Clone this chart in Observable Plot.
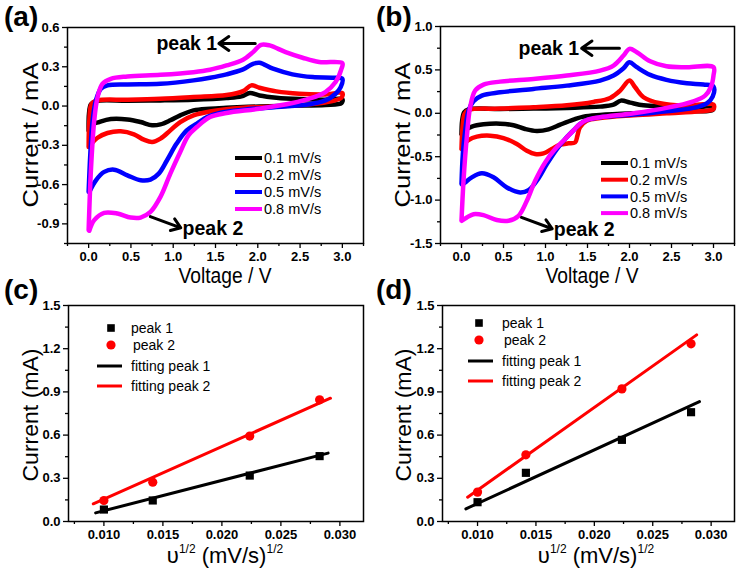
<!DOCTYPE html>
<html><head><meta charset="utf-8">
<script src="https://cdn.jsdelivr.net/npm/d3@7"></script>
<script src="https://cdn.jsdelivr.net/npm/@observablehq/plot@0.6"></script>
<style>
body{margin:0;background:#fff;font-family:"Liberation Sans",Arial,sans-serif;}
#fig{position:relative;width:742px;height:569px;overflow:hidden;background:#fff;}
</style></head><body><div id="fig"></div>
<script>
// ---------- data ----------
const scanRates = ["0.1 mV/s", "0.2 mV/s", "0.5 mV/s", "0.8 mV/s"];
const cvColors = ["#000000", "#ff0000", "#0000ff", "#ff00ff"];

// panel (a) CV loops: [voltage V, current mA]
const aCV01 = [[0,-0.186],[0.004,-0.058],[0.027,0.013],[0.086,0.038],[0.458,0.041],[0.849,0.043],[1.24,0.048],[1.63,0.061],[1.807,0.074],[1.905,0.099],[2.02,0.081],[2.22,0.064],[2.49,0.053],[2.8,0.048],[3.0,0.053],
  [2.99,0.023],[2.8,0.008],[2.41,0.003],[2.02,-0.003],[1.63,-0.013],[1.435,-0.02],[1.24,-0.033],[1.083,-0.071],[0.966,-0.109],[0.849,-0.14],[0.751,-0.147],[0.614,-0.122],[0.458,-0.102],[0.262,-0.099],[0.125,-0.122],[0.027,-0.147],[0,-0.186]];
const aCV02 = [[0,-0.313],[0.008,-0.109],[0.035,0.018],[0.106,0.043],[0.458,0.048],[0.849,0.056],[1.24,0.069],[1.63,0.084],[1.826,0.114],[1.924,0.158],[2.02,0.14],[2.22,0.112],[2.49,0.094],[2.8,0.089],[3.0,0.099],
  [2.99,0.064],[2.88,0.038],[2.61,0.013],[2.22,-0.003],[1.83,-0.013],[1.435,-0.041],[1.24,-0.071],[1.083,-0.122],[0.966,-0.186],[0.849,-0.249],[0.751,-0.275],[0.653,-0.257],[0.536,-0.216],[0.379,-0.193],[0.223,-0.206],[0.106,-0.242],[0.008,-0.308]];
const aCV05 = [[0,-0.656],[0.02,-0.364],[0.047,-0.109],[0.086,0.043],[0.145,0.132],[0.223,0.158],[0.458,0.165],[0.849,0.17],[1.24,0.196],[1.435,0.216],[1.63,0.242],[1.826,0.28],[1.944,0.323],[2.02,0.331],[2.18,0.285],[2.41,0.242],[2.65,0.221],[2.88,0.216],[3.0,0.208],
  [2.98,0.145],[2.92,0.094],[2.8,0.043],[2.61,0.013],[2.22,-0.008],[1.83,-0.028],[1.55,-0.053],[1.4,-0.084],[1.28,-0.135],[1.16,-0.186],[1.04,-0.287],[0.927,-0.414],[0.829,-0.516],[0.731,-0.562],[0.614,-0.567],[0.458,-0.529],[0.3,-0.486],[0.184,-0.503],[0.086,-0.567],[0.008,-0.656]];
const aCV08 = [[0,-0.948],[0.027,-0.49],[0.066,-0.11],[0.106,0.069],[0.164,0.17],[0.262,0.208],[0.458,0.226],[0.849,0.239],[1.24,0.259],[1.435,0.277],[1.63,0.31],[1.826,0.353],[1.944,0.412],[2.04,0.468],[2.14,0.463],[2.33,0.412],[2.53,0.369],[2.726,0.336],[3.0,0.328],
  [2.99,0.285],[2.92,0.183],[2.8,0.107],[2.61,0.056],[2.41,0.023],[2.02,-0.02],[1.63,-0.053],[1.435,-0.084],[1.28,-0.16],[1.18,-0.224],[1.083,-0.351],[0.966,-0.516],[0.849,-0.694],[0.731,-0.809],[0.614,-0.852],[0.497,-0.852],[0.34,-0.821],[0.184,-0.816],[0.066,-0.872],[0.008,-0.953]];

// panel (b) CV loops
const bCV01 = [[0,-0.238],[0.008,-0.085],[0.032,0.012],[0.083,0.046],[0.46,0.05],[0.857,0.054],[1.254,0.062],[1.65,0.077],[1.81,0.1],[1.897,0.146],[2.008,0.123],[2.167,0.092],[2.444,0.077],[2.762,0.062],[3.0,0.077],
  [2.99,0.038],[2.762,0.023],[2.444,0.012],[2.048,0.0],[1.65,-0.019],[1.452,-0.038],[1.333,-0.073],[1.175,-0.131],[1.036,-0.185],[0.897,-0.204],[0.758,-0.181],[0.619,-0.138],[0.46,-0.119],[0.262,-0.127],[0.123,-0.154],[0.032,-0.2],[0,-0.238]];
const bCV02 = [[0,-0.412],[0.012,-0.162],[0.036,-0.008],[0.083,0.038],[0.46,0.054],[0.857,0.069],[1.254,0.092],[1.571,0.131],[1.77,0.177],[1.889,0.262],[2.0,0.377],[2.067,0.3],[2.167,0.185],[2.365,0.115],[2.643,0.088],[3.0,0.1],
  [3.0,0.05],[2.84,0.023],[2.444,0.0],[2.048,-0.023],[1.65,-0.054],[1.49,-0.085],[1.41,-0.162],[1.38,-0.258],[1.353,-0.335],[1.274,-0.346],[1.175,-0.362],[1.075,-0.412],[0.976,-0.462],[0.877,-0.469],[0.778,-0.431],[0.659,-0.354],[0.5,-0.285],[0.341,-0.258],[0.183,-0.269],[0.083,-0.308],[0.024,-0.362],[0,-0.412]];
const bCV05 = [[0,-0.815],[0.016,-0.469],[0.044,-0.2],[0.083,0.031],[0.143,0.138],[0.242,0.204],[0.46,0.242],[0.857,0.281],[1.254,0.319],[1.65,0.377],[1.81,0.435],[1.929,0.519],[2.0,0.588],[2.087,0.531],[2.246,0.442],[2.44,0.385],[2.683,0.346],[2.88,0.331],[3.0,0.308],
  [2.99,0.192],[2.92,0.115],[2.76,0.062],[2.44,0.023],[2.048,-0.015],[1.65,-0.046],[1.49,-0.077],[1.41,-0.123],[1.33,-0.2],[1.234,-0.296],[1.135,-0.412],[1.016,-0.585],[0.897,-0.777],[0.798,-0.885],[0.698,-0.912],[0.54,-0.854],[0.381,-0.738],[0.242,-0.692],[0.123,-0.738],[0.044,-0.796],[0.008,-0.823]];
const bCV08 = [[0,-1.238],[0.024,-0.777],[0.063,-0.277],[0.103,0.069],[0.163,0.262],[0.262,0.331],[0.46,0.365],[0.857,0.396],[1.254,0.435],[1.65,0.492],[1.81,0.55],[1.929,0.665],[2.0,0.742],[2.087,0.704],[2.246,0.6],[2.44,0.542],[2.683,0.531],[3.0,0.531],
  [3.0,0.435],[2.968,0.3],[2.9,0.204],[2.76,0.138],[2.44,0.062],[2.048,0.0],[1.65,-0.046],[1.49,-0.077],[1.41,-0.123],[1.33,-0.2],[1.234,-0.296],[1.115,-0.412],[0.996,-0.565],[0.877,-0.777],[0.778,-1.008],[0.679,-1.181],[0.56,-1.238],[0.42,-1.23],[0.262,-1.173],[0.143,-1.162],[0.063,-1.2],[0.004,-1.238]];

// panels (c), (d): square root of scan rate vs peak current
const sqrtRate = [0.01, 0.01414, 0.02236, 0.02828];
const cPeak1 = [0.083, 0.146, 0.319, 0.454];
const cPeak2 = [0.146, 0.273, 0.593, 0.845];
const dPeak1 = [0.134, 0.338, 0.567, 0.759];
const dPeak2 = [0.204, 0.463, 0.921, 1.234];
// fitted lines (end points as drawn)
const cFit1X = [0.0093, 0.0290], cFit1Y = [0.060, 0.475];
const cFit2X = [0.0091, 0.0292], cFit2Y = [0.123, 0.856];
const dFit1X = [0.0090, 0.0290], dFit1Y = [0.088, 0.833];
const dFit2X = [0.00915, 0.02876], dFit2Y = [0.169, 1.296];

// peak annotations (data coordinates)
const aNotes = [{label: "peak 1", x: 1.16, y: 0.475}, {label: "peak 2", x: 1.47, y: -0.935}];
const aArrows = [{x1: 1.97, y1: 0.478, x2: 1.54, y2: 0.478}, {x1: 0.73, y1: -0.845, x2: 1.09, y2: -0.93}];
const bNotes = [{label: "peak 1", x: 1.04, y: 0.747}, {label: "peak 2", x: 1.46, y: -1.34}];
const bArrows = [{x1: 1.88, y1: 0.75, x2: 1.43, y2: 0.75}, {x1: 0.714, y1: -1.2, x2: 1.08, y2: -1.33}];

// ---------- helpers ----------
const FONT = "Liberation Sans, Arial, sans-serif";
const fmt1 = d => d.toFixed(1);
const fmt3 = d => d.toFixed(3);
const rng = (a, b, s) => d3.range(Math.round((b - a) / s) + 1).map(i => +(a + i * s).toFixed(6));
const plotStyle = {fontFamily: FONT, fontSize: "13px", background: "transparent", overflow: "visible", color: "#000"};

function cvTable(loops) {
  return loops.flatMap((pts, k) => pts.map(([v, i]) => ({v, i, rate: scanRates[k]})));
}

function axes(xMaj, xMin, yMaj, yMin, xf, yf) {
  const common = {label: null, strokeWidth: 1.3, fontSize: 13, fontWeight: "bold", fill: "#000", stroke: "#000"};
  return [
    Plot.axisX({...common, ticks: xMaj, tickSize: 5, tickPadding: 3, tickFormat: xf}),
    Plot.axisX({...common, ticks: xMin, tickSize: 3, tickFormat: () => ""}),
    Plot.axisY({...common, ticks: yMaj, tickSize: 5, tickPadding: 3, tickFormat: yf}),
    Plot.axisY({...common, ticks: yMin, tickSize: 3, tickFormat: () => ""}),
    Plot.frame({stroke: "#000", strokeWidth: 1.5})
  ];
}

function cvPanel(loops, yDomain, yMaj, yMin, mLeft, mTop, notes, arrows) {
  return Plot.plot({
    width: 371, height: 290,
    marginLeft: mLeft, marginRight: 8, marginTop: mTop, marginBottom: 47,
    style: plotStyle,
    x: {domain: [-0.25, 3.25]},
    y: {domain: yDomain},
    color: {domain: scanRates, range: cvColors},
    marks: [
      Plot.line(cvTable(loops), {x: "v", y: "i", z: "rate", stroke: "rate", strokeWidth: 4.5, curve: "catmull-rom", strokeLinejoin: "round"}),
      ...axes(rng(0, 3, 0.5), rng(-0.25, 3.25, 0.5), yMaj, yMin, fmt1, fmt1),
      Plot.text(notes, {x: "x", y: "y", text: "label", fontWeight: "bold", fontSize: 19.5, fill: "#000", fontFamily: FONT}),
      Plot.arrow(arrows, {x1: "x1", y1: "y1", x2: "x2", y2: "y2", stroke: "#000", strokeWidth: 3, headLength: 11, headAngle: 70})
    ]
  });
}

function fitPanel(p1, p2, f1x, f1y, f2x, f2y, mLeft) {
  const pts = sqrtRate.map((x, k) => ({x, p1: p1[k], p2: p2[k]}));
  const fit1 = f1x.map((x, k) => ({x, y: f1y[k]}));
  const fit2 = f2x.map((x, k) => ({x, y: f2y[k]}));
  return Plot.plot({
    width: 371, height: 279,
    marginLeft: mLeft, marginRight: 8, marginTop: 15, marginBottom: 48,
    style: plotStyle,
    x: {domain: [0.007, 0.032]},
    y: {domain: [0, 1.5]},
    marks: [
      Plot.line(fit1, {x: "x", y: "y", stroke: "#000", strokeWidth: 3}),
      Plot.line(fit2, {x: "x", y: "y", stroke: "#ff0000", strokeWidth: 3}),
      Plot.dot(pts, {x: "x", y: "p1", symbol: "square", r: 4.6, fill: "#000"}),
      Plot.dot(pts, {x: "x", y: "p2", symbol: "circle", r: 4.6, fill: "#ff0000"}),
      ...axes(rng(0.010, 0.030, 0.005), rng(0.0075, 0.0325, 0.005).filter(d => d <= 0.032), rng(0, 1.5, 0.3), rng(0.15, 1.35, 0.3), fmt3, fmt1)
    ]
  });
}

// ---------- build ----------
const fig = document.getElementById("fig");
function place(node, left, top) {
  node.style.position = "absolute";
  node.style.left = left + "px";
  node.style.top = top + "px";
  fig.appendChild(node);
  // make sure tick labels take the intended size and weight
  d3.select(node).selectAll("g[aria-label$='tick label']")
    .attr("font-size", 13).attr("font-weight", "bold").style("font-size", "13px").style("font-weight", "bold");
}

place(cvPanel([aCV01, aCV02, aCV05, aCV08], [-1.05, 0.6], rng(-0.9, 0.6, 0.3), rng(-1.05, 0.45, 0.3), 67, 27, aNotes, aArrows), 0, 0);
place(cvPanel([bCV01, bCV02, bCV05, bCV08], [-1.5, 1.0], rng(-1.5, 1.0, 0.5), rng(-1.25, 0.75, 0.5), 69, 26, bNotes, bArrows), 371, 0);
place(fitPanel(cPeak1, cPeak2, cFit1X, cFit1Y, cFit2X, cFit2Y, 68), 0, 290);
place(fitPanel(dPeak1, dPeak2, dFit1X, dFit1Y, dFit2X, dFit2Y, 71), 371, 290);

// ---------- overlay: panel letters, axis titles, legends ----------
const ov = d3.select(fig).append("svg")
  .attr("width", 742).attr("height", 569)
  .style("position", "absolute").style("left", "0px").style("top", "0px")
  .style("font-family", FONT).style("pointer-events", "none");

[["(a)", 4, 26], ["(b)", 376, 26], ["(c)", 4, 299], ["(d)", 376, 299]].forEach(([t, x, y]) =>
  ov.append("text").attr("x", x).attr("y", y).attr("font-size", 28).attr("font-weight", "bold").text(t));

function yTitle(t, x, y, len) {
  ov.append("text").attr("transform", `translate(${x},${y}) rotate(-90)`).attr("text-anchor", "middle")
    .attr("font-size", 22).attr("textLength", len).attr("lengthAdjust", "spacingAndGlyphs").text(t);
}
function xTitle(t, x, y, len) {
  ov.append("text").attr("x", x).attr("y", y).attr("text-anchor", "middle")
    .attr("font-size", 22).attr("textLength", len).attr("lengthAdjust", "spacingAndGlyphs").text(t);
}
yTitle("Current / mA", 38, 135, 145);
yTitle("Current / mA", 410, 135, 145);
xTitle("Voltage / V", 225, 283, 93);
xTitle("Voltage / V", 592, 283, 93);
yTitle("Current (mA)", 38, 415, 133);
yTitle("Current (mA)", 411, 415, 133);

function nuTitle(cx, y) {
  const t = ov.append("text").attr("x", cx).attr("y", y).attr("text-anchor", "middle").attr("font-size", 22);
  t.append("tspan").text("υ");
  t.append("tspan").attr("font-size", 12).attr("dy", -10).text("1/2");
  t.append("tspan").attr("dy", 10).text(" (mV/s)");
  t.append("tspan").attr("font-size", 12).attr("dy", -10).text("1/2");
}
nuTitle(225, 563);
nuTitle(596, 563);

function cvLegend(x0, y0, dy) {
  scanRates.forEach((r, k) => {
    const y = y0 + k * dy;
    ov.append("line").attr("x1", x0).attr("x2", x0 + 27).attr("y1", y).attr("y2", y)
      .attr("stroke", cvColors[k]).attr("stroke-width", 4);
    ov.append("text").attr("x", x0 + 29).attr("y", y).attr("dy", "0.36em").attr("font-size", 14.5).text(r);
  });
}
cvLegend(235, 158, 17);
cvLegend(601, 163, 16.7);

function fitLegend(x0, y0, xs, xsText) {
  ov.append("rect").attr("x", xs - 3.8).attr("y", y0 - 3.8).attr("width", 7.6).attr("height", 7.6).attr("fill", "#000");
  ov.append("text").attr("x", xsText).attr("y", y0).attr("dy", "0.36em").attr("font-size", 14).text("peak 1");
  ov.append("circle").attr("cx", xs).attr("cy", y0 + 17).attr("r", 4.6).attr("fill", "#ff0000");
  ov.append("text").attr("x", xsText + 2).attr("y", y0 + 17).attr("dy", "0.36em").attr("font-size", 14).text("peak 2");
  [["#000", "fitting peak 1", 38], ["#ff0000", "fitting peak 2", 58]].forEach(([c, t, off]) => {
    ov.append("line").attr("x1", x0).attr("x2", x0 + 25).attr("y1", y0 + off).attr("y2", y0 + off)
      .attr("stroke", c).attr("stroke-width", 3);
    ov.append("text").attr("x", xsText).attr("y", y0 + off).attr("dy", "0.36em").attr("font-size", 14).text(t);
  });
}
fitLegend(97, 328, 111, 131);
fitLegend(468, 323, 479, 502);
</script></body></html>
